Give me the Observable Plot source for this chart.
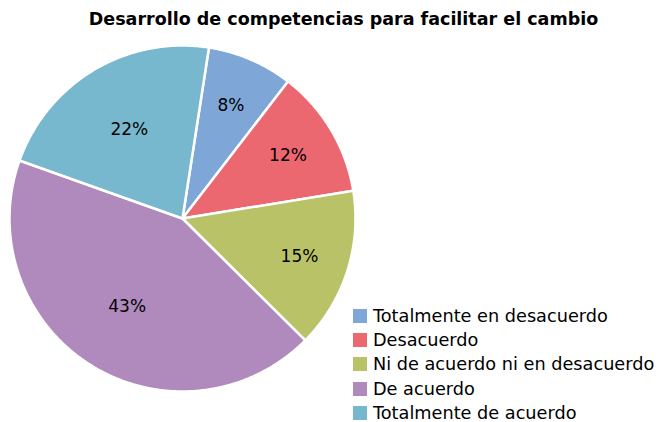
<!DOCTYPE html>
<html>
<head>
<meta charset="utf-8">
<script src="https://cdn.jsdelivr.net/npm/d3@7"></script>
<script src="https://cdn.jsdelivr.net/npm/@observablehq/plot@0.6"></script>
<style>
  html, body { margin: 0; padding: 0; background: #fff; }
  #wrap { position: relative; width: 657px; height: 422px; overflow: hidden; font-family: "DejaVu Sans", sans-serif; }
  #title { position: absolute; left: 0; width: 657px; top: 9px; text-align: center; font-weight: bold; font-size: 17.5px; color: #000; padding-left: 30px; box-sizing: border-box; white-space: nowrap; }
  #chart { position: absolute; left: 0; top: 0; }
  #legend { position: absolute; left: 353px; top: 304px; font-size: 17.7px; color: #000; }
  .row { display: flex; align-items: center; height: 24.2px; white-space: nowrap; }
  .sw { width: 14px; height: 14px; margin-right: 6px; flex: none; }
</style>
</head>
<body>
<div id="wrap">
  <div id="chart"></div>
  <div id="title"></div>
  <div id="legend"></div>
</div>
<script>
const titleText = "Desarrollo de competencias para facilitar el cambio";
const categories = ["Totalmente en desacuerdo", "Desacuerdo", "Ni de acuerdo ni en desacuerdo", "De acuerdo", "Totalmente de acuerdo"];
const values = [8, 12, 15, 43, 22];
const colors = ["#7ea7d8", "#eb6871", "#b9c267", "#b08abd", "#77b8ce"];

const startDeg = 8.8;
const toRad = Math.PI / 180;
const pie = d3.pie().sort(null).value(d => d.value)
  .startAngle(startDeg * toRad).endAngle(startDeg * toRad + 2 * Math.PI);
const slices = pie(categories.map((c, i) => ({category: c, value: values[i]})));

// polygon outline of each slice (center + arc)
const outline = [];
for (const s of slices) {
  outline.push({category: s.data.category, x: 0, y: 0});
  const n = Math.max(4, Math.ceil((s.endAngle - s.startAngle) / (0.5 * toRad)));
  for (let k = 0; k <= n; k++) {
    const a = s.startAngle + (s.endAngle - s.startAngle) * k / n;
    outline.push({category: s.data.category, x: Math.sin(a), y: Math.cos(a)});
  }
  outline.push({category: s.data.category, x: 0, y: 0});
}

const labels = slices.map(s => {
  const a = (s.startAngle + s.endAngle) / 2;
  const r = s.data.value < 20 ? 0.71 : 0.6;
  return {category: s.data.category, text: s.data.value + "%", x: r * Math.sin(a), y: r * Math.cos(a)};
});

const R = 173, cx = 182, cy = 218;
const plot = Plot.plot({
  width: 657,
  height: 422,
  marginLeft: cx - R,
  marginRight: 657 - cx - R,
  marginTop: cy - R,
  marginBottom: 422 - cy - R,
  x: {domain: [-1, 1], axis: null},
  y: {domain: [-1, 1], axis: null},
  color: {domain: categories, range: colors},
  style: {fontFamily: '"DejaVu Sans", sans-serif', background: "transparent"},
  marks: [
    Plot.line(outline, {x: "x", y: "y", z: "category", fill: "category", stroke: "white", strokeWidth: 2.5, strokeLinejoin: "round", curve: "linear"}),
    Plot.text(labels, {x: "x", y: "y", text: "text", fill: "black", fontSize: 17})
  ]
});
document.getElementById("chart").appendChild(plot);
document.getElementById("title").textContent = titleText;

const color = plot.scale("color");
const legend = document.getElementById("legend");
categories.forEach((c, i) => {
  const row = document.createElement("div");
  row.className = "row";
  const sw = document.createElement("span");
  sw.className = "sw";
  sw.style.background = color.apply(c);
  const t = document.createElement("span");
  t.textContent = c;
  row.appendChild(sw);
  row.appendChild(t);
  legend.appendChild(row);
});
</script>
</body>
</html>
